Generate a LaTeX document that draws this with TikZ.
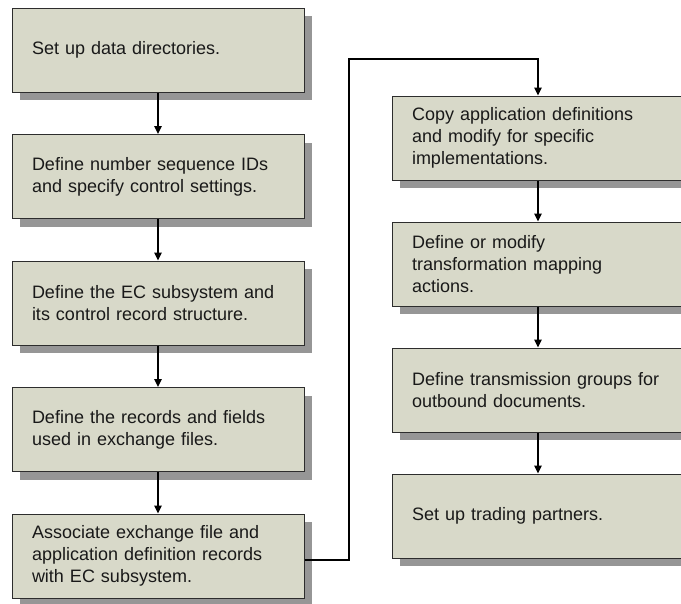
\documentclass[tikz,border=0pt]{standalone}
\usepackage{fontspec}
\setmainfont{Liberation Sans}
\usetikzlibrary{shadows,arrows.meta}
\definecolor{boxfill}{RGB}{216,217,201}
\definecolor{shadowgray}{RGB}{150,150,150}
\definecolor{edgegray}{RGB}{45,45,45}
\tikzset{
  stepbox/.style={draw=edgegray, line width=0.75pt, fill=boxfill, rectangle,
    minimum width=219pt, minimum height=63pt, text width=189pt, inner xsep=15pt,
    align=left, text=black!90, font=\fontsize{13.5}{16.5}\selectfont,
    drop shadow={shadow xshift=6pt, shadow yshift=-6pt, fill=shadowgray, opacity=1}},
  flow/.style={line width=1.2pt, -{Triangle[width=5.5pt,length=6pt]}}
}
\begin{document}
\begin{tikzpicture}[x=0.75pt,y=0.75pt,yscale=-1,xscale=1]
%set diagram size to 681 x 603
\clip (0,0) rectangle (681,603);

%Left column
\node [stepbox] (dirs) at (158,50) {Set up data directories.};
\node [stepbox] (numseq) at (158,176.5) {Define number sequence IDs\\and specify control settings.};
\node [stepbox] (subsys) at (158,303) {Define the EC subsystem and\\its control record structure.};
\node [stepbox] (records) at (158,429.5) {Define the records and fields\\used in exchange files.};
\node [stepbox] (assoc) at (158,556) {Associate exchange file and\\application definition records\\with EC subsystem.};

%Right column
\node [stepbox] (copydef) at (538,138) {Copy application definitions\\and modify for specific\\implementations.};
\node [stepbox] (mapping) at (538,264) {Define or modify\\transformation mapping\\actions.};
\node [stepbox] (transgrp) at (538,390) {Define transmission groups for\\outbound documents.};
\node [stepbox] (partners) at (538,516) {Set up trading partners.};

% Connection
\draw [flow] (dirs) -- (numseq);
\draw [flow] (numseq) -- (subsys);
\draw [flow] (subsys) -- (records);
\draw [flow] (records) -- (assoc);

% Connection
\coordinate (bend) at (349,59);
\draw [flow] ([yshift=3pt]assoc.east) -| (bend) -| (copydef.north);

% Connection
\draw [flow] (copydef) -- (mapping);
\draw [flow] (mapping) -- (transgrp);
\draw [flow] (transgrp) -- (partners);

\end{tikzpicture}
\end{document}
